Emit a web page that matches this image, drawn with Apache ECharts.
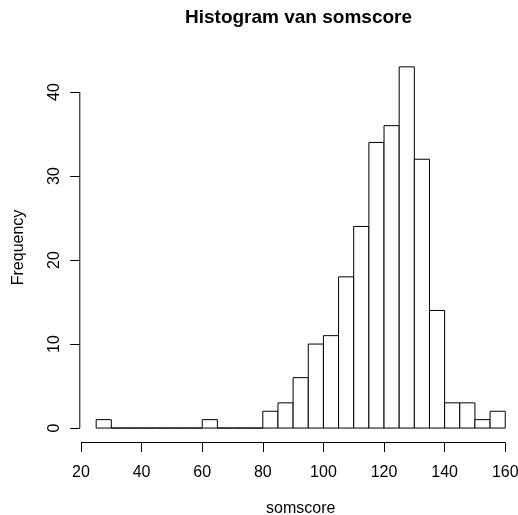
<!DOCTYPE html>
<html>
<head>
<meta charset="utf-8">
<script src="https://cdn.jsdelivr.net/npm/echarts@6/dist/echarts.min.js"></script>
<style>html,body{margin:0;padding:0;background:#fff;}#chart{width:518px;height:515px;}</style>
</head>
<body>
<div id="chart"></div>
<script>
// Histogram data
const breaks = [25,30,35,40,45,50,55,60,65,70,75,80,85,90,95,100,105,110,115,120,125,130,135,140,145,150,155,160];
const counts = [1,0,0,0,0,0,0,1,0,0,0,2,3,6,10,11,18,24,34,36,43,32,14,3,3,1,2];
const xTicks = [20,40,60,80,100,120,140,160];
const yTicks = [0,10,20,30,40];
const titleText = 'Histogram van somscore';
const xLabel = 'somscore';
const yLabel = 'Frequency';

// R-style axis ranges (4% extension of data range)
const xLo = breaks[0], xHi = breaks[breaks.length - 1];
const yHi = Math.max.apply(null, counts);
const xMin = xLo - 0.04 * (xHi - xLo), xMax = xHi + 0.04 * (xHi - xLo);
const yMin = -0.04 * yHi, yMax = yHi * 1.04;

const bins = counts.map((c, i) => [breaks[i], breaks[i + 1], c]);
const font = 'Liberation Sans, Arial, sans-serif';

const chart = echarts.init(document.getElementById('chart'), null, {renderer: 'canvas'});
chart.setOption({
  animation: false,
  backgroundColor: '#ffffff',
  title: {
    text: titleText,
    left: 185, top: 8, padding: 0,
    textStyle: {fontFamily: font, fontSize: 19, fontWeight: 'bold', color: '#000'}
  },
  grid: {left: 79.8, right: -3.6, top: 52.4, bottom: 72.5, containLabel: false, outerBoundsMode: 'none'},
  xAxis: {
    type: 'value', min: xMin, max: xMax,
    name: xLabel, nameLocation: 'middle', nameGap: 58,
    nameTextStyle: {fontFamily: font, fontSize: 16, color: '#000'},
    axisLine: {show: false, onZero: false},
    splitLine: {show: false},
    axisTick: {show: true, customValues: xTicks, length: 9.6, lineStyle: {color: '#000', width: 1}},
    axisLabel: {show: true, customValues: xTicks, margin: 22, fontFamily: font, fontSize: 16, color: '#000'}
  },
  yAxis: {
    type: 'value', min: yMin, max: yMax,
    name: yLabel, nameLocation: 'middle', nameGap: 53,
    nameTextStyle: {fontFamily: font, fontSize: 16, color: '#000'},
    axisLine: {show: false, onZero: false},
    splitLine: {show: false},
    axisTick: {show: true, customValues: yTicks, length: 9.6, lineStyle: {color: '#000', width: 1}},
    axisLabel: {show: true, customValues: yTicks, rotate: 90, margin: 17, fontFamily: font, fontSize: 16, color: '#000'}
  },
  series: [
    {
      type: 'custom',
      name: 'somscore',
      data: bins,
      encode: {x: [0, 1], y: 2},
      renderItem: function (params, api) {
        const p0 = api.coord([api.value(0), 0]);
        const p1 = api.coord([api.value(1), api.value(2)]);
        return {
          type: 'polygon',
          shape: {points: [[p0[0], p0[1]], [p0[0], p1[1]], [p1[0], p1[1]], [p1[0], p0[1]]]},
          style: {fill: '#fff', stroke: '#000', lineWidth: 1}
        };
      }
    },
    {
      type: 'custom',
      name: 'axes',
      silent: true,
      data: [[xTicks[0], xTicks[xTicks.length - 1], yTicks[0], yTicks[yTicks.length - 1]]],
      renderItem: function (params, api) {
        const a = api.coord([api.value(0), yMin]);
        const b = api.coord([api.value(1), yMin]);
        const c = api.coord([xMin, api.value(2)]);
        const d = api.coord([xMin, api.value(3)]);
        return {
          type: 'group',
          children: [
            {type: 'line', shape: {x1: a[0], y1: a[1], x2: b[0], y2: b[1]}, style: {stroke: '#000', lineWidth: 1}},
            {type: 'line', shape: {x1: c[0], y1: c[1], x2: d[0], y2: d[1]}, style: {stroke: '#000', lineWidth: 1}}
          ]
        };
      }
    }
  ]
});
</script>
</body>
</html>
